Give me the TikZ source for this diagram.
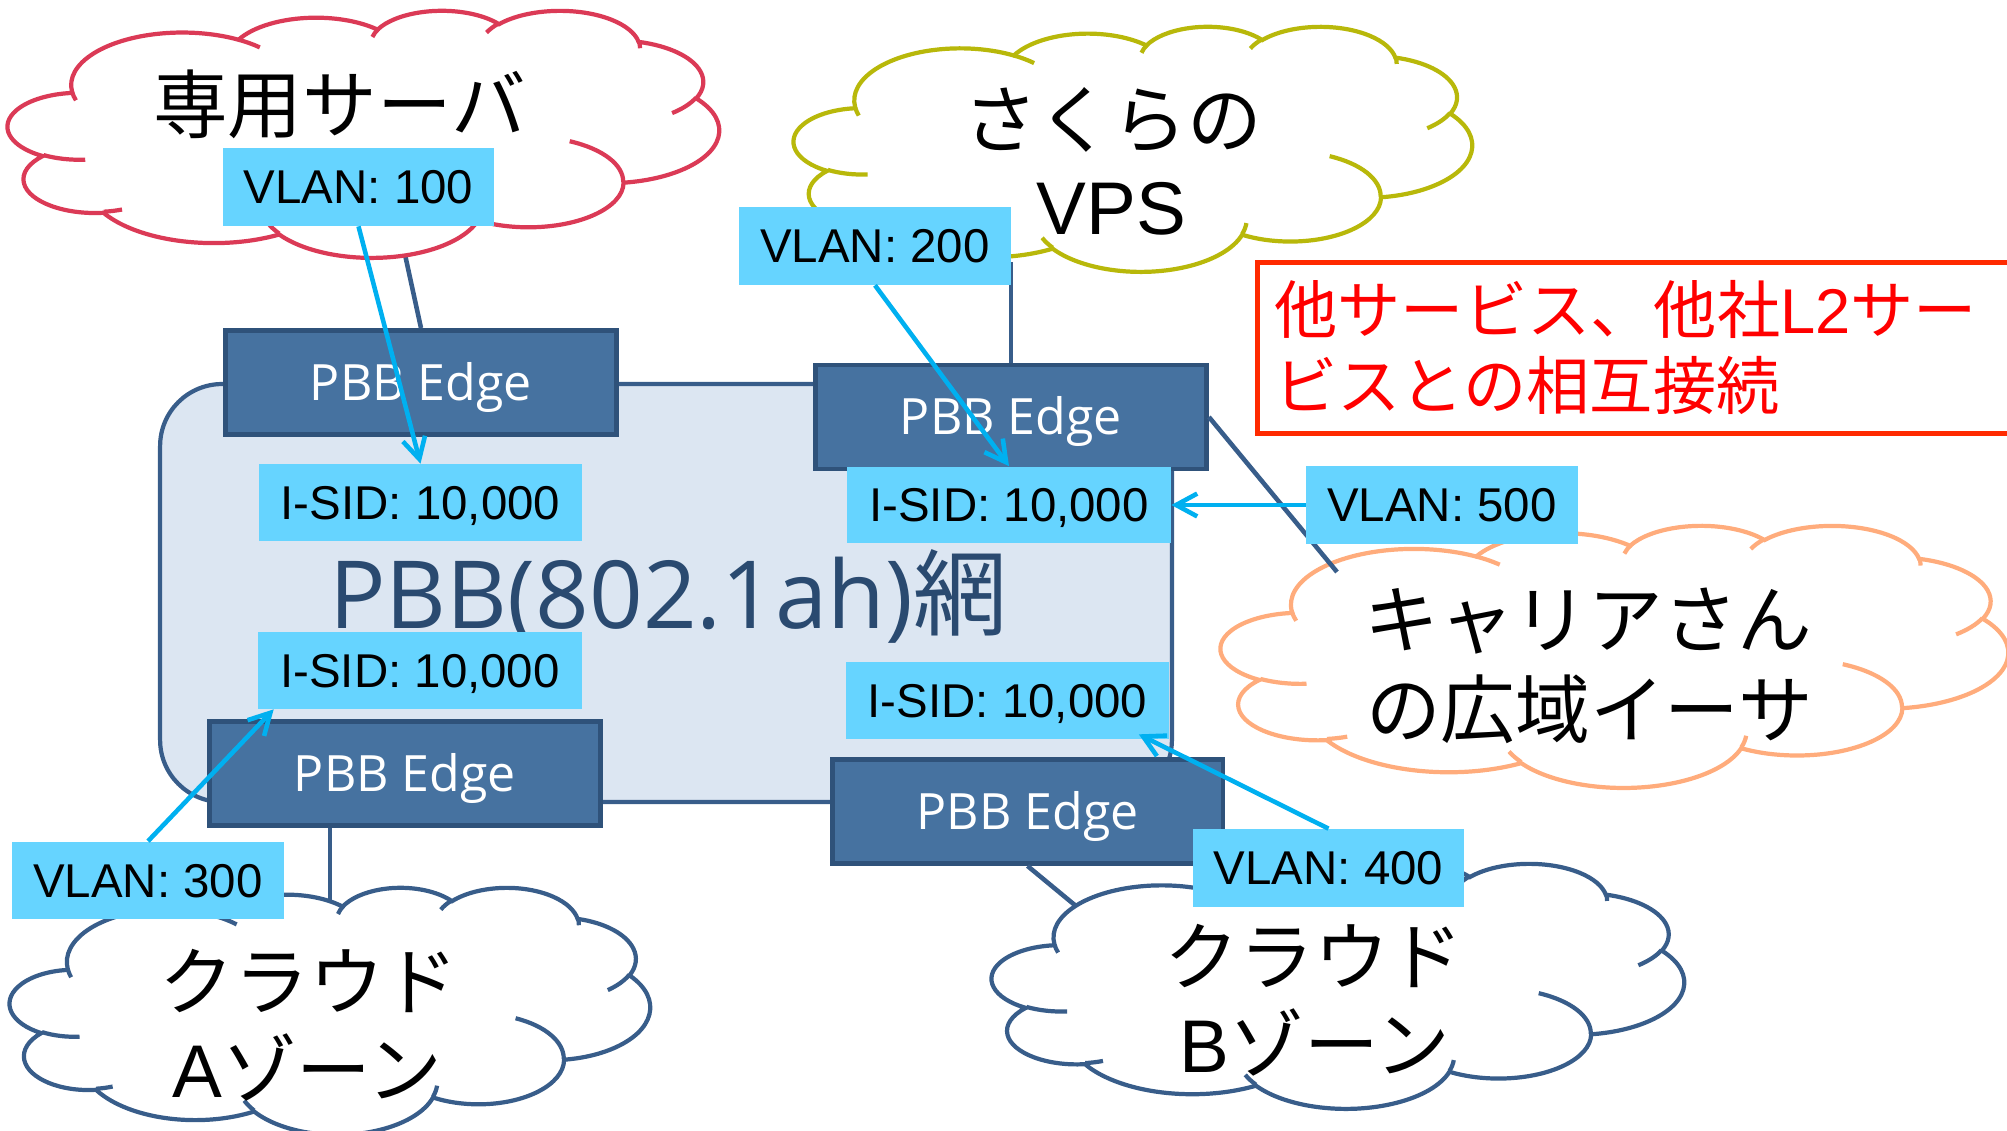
\documentclass[tikz,border=0pt]{standalone}
\usepackage{fontspec}
\setmainfont{Liberation Sans}
\newfontfamily\jpfont{Noto Sans CJK JP}
\newfontfamily\osfont{Open Sans}
\usetikzlibrary{arrows.meta,calc}

\definecolor{netfill}{HTML}{DCE6F2}
\definecolor{netline}{HTML}{385D8A}
\definecolor{nettext}{HTML}{2A4A70}
\definecolor{edgefill}{HTML}{4672A0}
\definecolor{edgeline}{HTML}{2F527A}
\definecolor{tagfill}{HTML}{66D4FF}
\definecolor{arrowcol}{HTML}{00B0F0}
\definecolor{cloudred}{HTML}{DB3A56}
\definecolor{cloudyel}{HTML}{B8B80A}
\definecolor{cloudora}{HTML}{FFAC7C}
\definecolor{cloudblue}{HTML}{385D8A}
\definecolor{alertline}{HTML}{FF2A00}
\definecolor{alerttext}{HTML}{FF0000}

% elliptical arc given by radii, start angle and sweep measured as visual angles
\newcommand\ooarc[4]{arc[x radius=#1,y radius=#2,start angle={atan2(#1*sin(#3),#2*cos(#3))},delta angle={mod(atan2(#1*sin(#3+#4),#2*cos(#3+#4))-atan2(#1*sin(#3),#2*cos(#3))+720,360)}]}

% cloud outline in a 100 x 100 box, stretched by the scope options
\newcommand\cloudshape[2]{%
  \begin{scope}[#2]
    \filldraw[cloudline, draw=#1, fill=white]
      (9.028,33.264)
      \ooarc{15.632}{21.273}{-190.4875}{123.7805}
      \ooarc{12.345}{16.822}{-144.1024}{89.9452}
      \ooarc{10.104}{13.762}{-145.8079}{99.7230}
      \ooarc{11.243}{15.266}{-130.9861}{117.2417}
      \ooarc{12.345}{16.836}{-78.7089}{109.0269}
      \ooarc{15.683}{21.343}{-46.2673}{130.2690}
      \ooarc{13.391}{18.211}{0.6250}{114.0333}
      \ooarc{15.630}{21.331}{22.4516}{115.1726}
      \ooarc{17.870}{24.405}{66.2426}{75.7110}
      \ooarc{10.093}{13.699}{-274.9421}{146.7356}
      \ooarc{10.058}{13.762}{-246.8285}{152.5189}
      -- cycle;
    \draw[cloudline, draw=#1]
      (10.863,60.595) \ooarc{10.058}{13.762}{86.742}{26.4295}
      (16.037,80.785) \ooarc{10.093}{13.699}{73.6105}{11.4475}
      (38.144,90.486) \ooarc{15.630}{21.331}{137.6242}{14.0811}
      (66.729,80.442) \ooarc{15.630}{21.331}{6.4533}{15.9984}
      (79.002,53.134) \ooarc{13.391}{18.211}{-70.2924}{70.9174}
      (96.755,35.542) \ooarc{12.345}{16.836}{30.3180}{27.7515}
      (88.713,12.560) \ooarc{11.243}{15.266}{-13.7443}{14.8589}
      (67.310,9.148) \ooarc{11.243}{15.266}{-149.1815}{18.1954}
      (51.252,10.926) \ooarc{10.104}{13.762}{-163.4943}{17.6864}
      (32.407,12.019) \ooarc{15.632}{21.273}{-66.7070}{12.3194}
      (9.553,36.549) \ooarc{15.632}{21.273}{157.6544}{11.8582};
  \end{scope}}

\tikzset{
  netbox/.style={draw=netline, fill=netfill, line width=2.4pt, rounded corners=1.24cm,
    minimum width=20.24cm, minimum height=8.36cm, inner sep=0pt},
  nettitle/.style={anchor=base west, inner sep=0pt, text=nettext,
    font=\osfont\fontsize{53.5}{60}\selectfont},
  edgebox/.style={draw=edgeline, fill=edgefill, line width=2.8pt, inner sep=0pt,
    minimum width=7.82cm, minimum height=2.08cm, text=white,
    text height=20.3pt, text depth=0pt, font=\osfont\fontsize{28.5}{32}\selectfont},
  tag/.style={fill=tagfill, inner sep=0pt, text height=19.3pt, text depth=0pt,
    font=\fontsize{27}{31}\selectfont},
  vlantag/.style={tag, minimum width=5.44cm, minimum height=1.56cm},
  isidtag/.style={tag, minimum width=6.48cm, minimum height=1.54cm},
  link/.style={draw=netline, line width=2.6pt},
  vlanarrow/.style={draw=arrowcol, line width=2.6pt, -{Straight Barb[length=12pt,width=13pt]}},
  cloudline/.style={line width=2.4pt},
  cloudtext/.style={inner sep=0pt, font=\fontsize{42.5}{48}\selectfont},
  alertbox/.style={draw=alertline, line width=2.9pt},
  alertlabel/.style={anchor=west, inner sep=0pt, text=alerttext,
    font=\jpfont\fontsize{36}{42}\selectfont},
}

\begin{document}
\begin{tikzpicture}[x=0.02cm, y=0.02cm, yscale=-1]
  \useasboundingbox (0,0) rectangle (2007,1131);
  \clip (0,0) rectangle (2007,1131);

  % PBB network
  \node[netbox] (net) at (666,593) {};
  \node[nettitle] (nettitle) at (329,628) {PBB(802.1ah){\jpfont 網}};

  % attachment points on the clouds
  \coordinate (portRed) at (404,250);
  \coordinate (portYel) at (1011,262);
  \coordinate (portOra) at (1337,572);
  \coordinate (portA) at (330,912);
  \coordinate (portB) at (1082,911);

  % PBB edge bridges
  \node[edgebox] (edgeTL) at (421,382.5) {PBB Edge};
  \node[edgebox] (edgeTR) at (1011,417) {PBB Edge};
  \node[edgebox] (edgeBL) at (405,773.5) {PBB Edge};
  \node[edgebox] (edgeBR) at (1027.5,811.5) {PBB Edge};

  % links from the bridges to the customer networks
  \draw[link] (edgeTL.north) -- (portRed);
  \draw[link] (edgeTR.north) -- (portYel);
  \draw[link] (edgeBL.south -| portA) -- (portA);
  \draw[link] (edgeBR.south) -- (portB);

  % customer networks
  \cloudshape{cloudred}{shift={(8,10)},xscale=7.11,yscale=2.47}
  \cloudshape{cloudyel}{shift={(794,26)},xscale=6.78,yscale=2.45}
  \cloudshape{cloudora}{shift={(1221,525)},xscale=7.87,yscale=2.62}
  \cloudshape{cloudblue}{shift={(10,887)},xscale=6.40,yscale=2.47}
  \cloudshape{cloudblue}{shift={(992,863)},xscale=6.92,yscale=2.45}

  \draw[link] (edgeTR.east) -- (portOra);

  \node[cloudtext] (tSen) at (339.5,104.5) {\jpfont 専用サーバ};
  \node[cloudtext] (tSak) at (1112.5,119.5) {\jpfont さくらの};
  \node[cloudtext] (tVps) at (1111.5,209) {VPS};
  \node[cloudtext] (tCar1) at (1588.5,621.5) {\jpfont キャリアさん};
  \node[cloudtext] (tCar2) at (1589.5,709.5) {\jpfont の広域イーサ};
  \node[cloudtext] (tA1) at (309,981.5) {\jpfont クラウド};
  \node[cloudtext] (tA2) at (307.5,1067.5) {A{\jpfont ゾーン}};
  \node[cloudtext] (tB1) at (1314,956.5) {\jpfont クラウド};
  \node[cloudtext] (tB2) at (1315,1042) {B{\jpfont ゾーン}};

  % VLAN and I-SID tags
  \node[vlantag] (v100) at (358.5,187) {VLAN: 100};
  \node[vlantag] (v200) at (875,246) {VLAN: 200};
  \node[vlantag] (v500) at (1442,505) {VLAN: 500};
  \node[vlantag] (v300) at (148,880.5) {VLAN: 300};
  \node[vlantag] (v400) at (1328.5,868) {VLAN: 400};
  \node[isidtag] (sTL) at (420.5,502.5) {I-SID: 10,000};
  \node[isidtag] (sTR) at (1009,505) {I-SID: 10,000};
  \node[isidtag] (sBL) at (420,670.5) {I-SID: 10,000};
  \node[isidtag] (sBR) at (1007.5,700.5) {I-SID: 10,000};

  % VLAN to I-SID mapping
  \draw[vlanarrow] (v100.south) -- (sTL.north);
  \draw[vlanarrow] (v200.south) -- (sTR.north);
  \draw[vlanarrow] (v500.west) -- (sTR.east);
  \draw[vlanarrow] (v300.north) -- ($(sBL.south west)+(16,0)$);
  \draw[vlanarrow] (v400.north) -- ($(sBR.south east)+(-31,-5)$);

  % interconnection note
  \draw[alertbox] (1257.5,262.5) rectangle (2040,433.5);
  \node[alertlabel] (note1) at (1274,309.5) {他サービス、他社{\rmfamily L2}サー};
  \node[alertlabel] (note2) at (1274,385.5) {ビスとの相互接続};
\end{tikzpicture}
\end{document}
